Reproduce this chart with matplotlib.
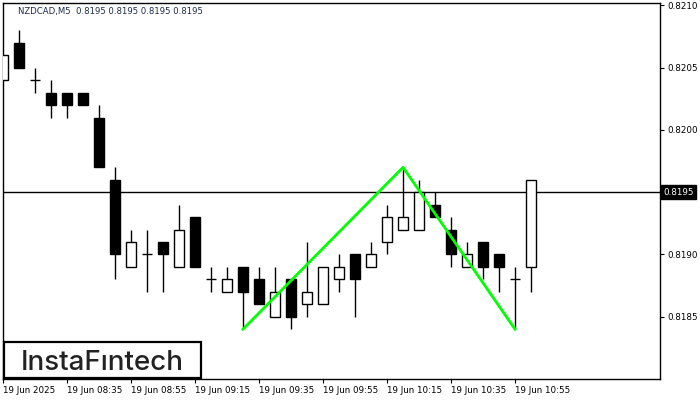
import numpy as np
import matplotlib.pyplot as plt
from matplotlib.patches import Rectangle

# candle data (NZDCAD M5)
opens  = [0.8204, 0.8207, 0.8204, 0.8203, 0.8203, 0.8203, 0.8201, 0.8196, 0.8189, 0.8190,
          0.8191, 0.8189, 0.8193, 0.8188, 0.8187, 0.8189, 0.8188, 0.8185, 0.8188, 0.8186,
          0.8186, 0.8188, 0.8190, 0.8189, 0.8191, 0.8192, 0.8192, 0.8194, 0.8192, 0.8189,
          0.8191, 0.8190, 0.8188, 0.8189]
highs  = [0.8206, 0.8208, 0.8205, 0.8204, 0.8203, 0.8203, 0.8202, 0.8197, 0.8192, 0.8192,
          0.8191, 0.8194, 0.8193, 0.8189, 0.8189, 0.8189, 0.8189, 0.8189, 0.8188, 0.8191,
          0.8189, 0.8190, 0.8190, 0.8191, 0.8194, 0.8197, 0.8196, 0.8195, 0.8193, 0.8191,
          0.8191, 0.8190, 0.8189, 0.8196]
lows   = [0.8204, 0.8205, 0.8203, 0.8201, 0.8201, 0.8202, 0.8197, 0.8188, 0.8189, 0.8187,
          0.8187, 0.8189, 0.8189, 0.8187, 0.8187, 0.8184, 0.8186, 0.8185, 0.8184, 0.8185,
          0.8186, 0.8187, 0.8185, 0.8189, 0.8190, 0.8192, 0.8192, 0.8193, 0.8189, 0.8189,
          0.8188, 0.8187, 0.8184, 0.8187]
closes = [0.8206, 0.8205, 0.8204, 0.8202, 0.8202, 0.8202, 0.8197, 0.8190, 0.8191, 0.8190,
          0.8190, 0.8192, 0.8189, 0.8188, 0.8188, 0.8187, 0.8186, 0.8187, 0.8185, 0.8187,
          0.8189, 0.8189, 0.8188, 0.8190, 0.8193, 0.8193, 0.8195, 0.8193, 0.8190, 0.8190,
          0.8189, 0.8189, 0.8188, 0.8196]

# pattern line: low - high - low (candle index, price)
pattern_idx = [15, 25, 32]
pattern_price = [0.8184, 0.8197, 0.8184]

bid = 0.8195
tick_pos = [0, 4, 8, 12, 16, 20, 24, 28, 32]
tick_labels = ['19 Jun 2025', '19 Jun 08:35', '19 Jun 08:55', '19 Jun 09:15', '19 Jun 09:35',
               '19 Jun 09:55', '19 Jun 10:15', '19 Jun 10:35', '19 Jun 10:55']
price_ticks = [0.8185, 0.8190, 0.8195, 0.8200, 0.8205, 0.8210]

fig = plt.figure(figsize=(7, 4), dpi=100)
ax = fig.add_axes([2.5/700, 21/400, 657.5/700, 376/400])

x = np.arange(len(opens))
o = np.array(opens); h = np.array(highs); l = np.array(lows); c = np.array(closes)
w = 0.66

ax.vlines(x, l, h, color='black', lw=1, zorder=2)
for i in range(len(x)):
    if abs(c[i] - o[i]) < 1e-7:
        ax.hlines(o[i], x[i]-w/2, x[i]+w/2, color='black', lw=1, zorder=3)
    else:
        bull = c[i] > o[i]
        ax.bar(x[i], abs(c[i]-o[i]), bottom=min(o[i], c[i]), width=w,
               color='white' if bull else 'black', edgecolor='black', lw=1, zorder=3)

ax.axhline(bid, color='black', lw=1, zorder=1)
ax.plot(pattern_idx, pattern_price, color='#00ff00', lw=2, zorder=4)

ax.set_xlim(-0.03, 41.06)
ax.set_ylim(0.8180, 0.82102)

ax.yaxis.tick_right()
ax.set_yticks(price_ticks)
ax.set_yticklabels(['' if abs(p-bid) < 1e-7 else f'{p:.4f}' for p in price_ticks])
ax.tick_params(axis='y', labelsize=6.3, length=3, pad=2, colors='black')
ax.text(1.005, (bid-0.8180)/(0.82102-0.8180), f'{bid:.4f}', transform=ax.transAxes,
        fontsize=6.3, color='white', va='center', ha='left',
        bbox=dict(facecolor='black', edgecolor='black', pad=1.8))

ax.set_xticks(tick_pos)
ax.set_xticklabels(tick_labels, ha='left')
ax.tick_params(axis='x', labelsize=6.3, length=3, pad=2)

for s in ax.spines.values():
    s.set_linewidth(1)
    s.set_color('black')

ax.text(0.024, 0.99, 'NZDCAD,M5  0.8195 0.8195 0.8195 0.8195', transform=ax.transAxes,
        fontsize=6.1, color='#1c2a48', va='top', ha='left')

# logo box
fig.patches.append(Rectangle((3.5/700, 22.5/400), 197/700, 36/400, transform=fig.transFigure,
                             facecolor='white', edgecolor='black', lw=1.6, zorder=10))
fig.text(102/700, 30/400, 'InstaFıntech', fontsize=20, color='#222222', family='Inter',
         fontweight='medium', ha='center', va='baseline', zorder=11)

fig.savefig('out.png', dpi=100)
